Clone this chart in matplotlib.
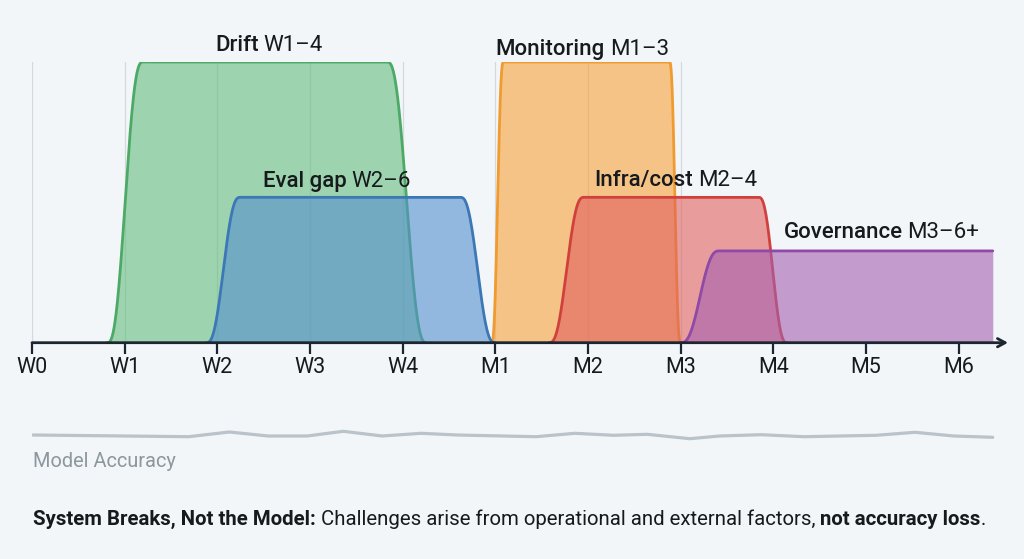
import numpy as np
import matplotlib
matplotlib.use("Agg")
import matplotlib.pyplot as plt
from matplotlib.transforms import IdentityTransform

plt.rcParams['font.family'] = ['Roboto', 'DejaVu Sans']

# ---------------- data ----------------
tick_labels = ["W0", "W1", "W2", "W3", "W4", "M1", "M2", "M3", "M4", "M5", "M6"]
phase_names = ["Drift", "Eval gap", "Monitoring", "Infra/cost", "Governance"]
phase_ranges = ["W1\u20134", "W2\u20136", "M1\u20133", "M2\u20134", "M3\u20136+"]
phase_start = [0.81, 1.88, 4.96, 5.58, 7.00]
phase_top_start = [1.20, 2.25, 5.09, 5.96, 7.42]
phase_top_end = [3.83, 4.62, 6.88, 7.84, 10.37]
phase_end = [4.26, 5.00, 7.00, 8.15, 10.37]
phase_level = [1.0, 0.518, 1.0, 0.518, 0.327]

acc_x = [0.01, 1.69, 2.13, 2.55, 2.97, 3.36, 3.78, 4.20, 4.59, 5.44, 5.86,
         6.28, 6.64, 7.10, 7.42, 7.87, 8.33, 9.11, 9.53, 9.95, 10.37]
acc_values = [92.10, 91.93, 92.40, 92.00, 92.00, 92.47, 92.00, 92.27, 92.10, 91.93, 92.27,
              92.07, 92.17, 91.73, 92.00, 92.13, 91.93, 92.07, 92.37, 92.00, 91.87]

# ---------------- style ----------------
fill_colors = ["#64bd7c", "#5490ce", "#f9a139", "#e1605e", "#a460b0"]
edge_colors = ["#4caa66", "#3b78b5", "#ef9b30", "#d0413d", "#8e4aa6"]
draw_order = [0, 2, 1, 3, 4]
label_x = [2.56, 3.29, 5.94, 6.95, 9.17]
label_y = [1.039, 0.555, 1.025, 0.558, 0.373]
dark = "#1b2631"
text_dark = "#161a1d"
bg = "#f3f6f9"

W, H = 1024, 559
fig = plt.figure(figsize=(W / 100, H / 100), dpi=100, facecolor=bg)
x0_px, unit_px, axis_px, top_px, right_px = 32.0, 92.65, 342.7, 62.0, 1008.0
xmax = (right_px - x0_px) / unit_px

ax = fig.add_axes([x0_px / W, 1 - axis_px / H, (right_px - x0_px) / W, (axis_px - top_px) / H])
ax.set_xlim(0, xmax)
ax.set_ylim(0, 1)
ax.patch.set_alpha(0)
for s in ax.spines.values():
    s.set_visible(False)
ax.set_yticks([])
ax.set_xticks(range(len(tick_labels)))
ax.set_xticklabels(tick_labels, fontsize=15.5, color=text_dark)
ax.tick_params(axis='x', length=8, width=1.6, color=dark, pad=2)

for i in range(8):
    ax.axvline(i, color="#d3dadf", lw=0.9, zorder=0)


def smooth(t):
    t = np.clip(t, 0, 1)
    return t ** 3 * (t * (6 * t - 15) + 10)


for k, i in enumerate(draw_order):
    s, a, b, e, h = phase_start[i], phase_top_start[i], phase_top_end[i], phase_end[i], phase_level[i]
    rise = np.linspace(s, a, 120)
    xs = [rise, np.array([a, b])]
    ys = [h * smooth((rise - s) / (a - s)), np.array([h, h])]
    if e > b:
        fall = np.linspace(b, e, 120)
        xs.append(fall)
        ys.append(h * smooth((e - fall) / (e - b)))
    x = np.concatenate(xs)
    y = np.concatenate(ys)
    ax.fill_between(x, 0, y, color=fill_colors[i], alpha=0.6, lw=0, zorder=2 + k)
    ax.plot(x, y, color=edge_colors[i], lw=2.0, zorder=2 + k, solid_capstyle='round')

ax.annotate("", xy=(xmax, 0), xytext=(0, 0),
            arrowprops=dict(arrowstyle="->,head_length=0.55,head_width=0.3", color=dark, lw=2,
                            shrinkA=0, shrinkB=0),
            annotation_clip=False, zorder=20)

# accuracy line
ax2 = fig.add_axes([x0_px / W, 1 - 450 / H, (right_px - x0_px) / W, 30 / H])
ax2.set_xlim(0, xmax)
ax2.set_ylim(90.6, 93.6)
ax2.axis('off')
ax2.plot(acc_x, acc_values, color="#b9c3c9", lw=2.3, solid_capstyle='round')

renderer = fig.canvas.get_renderer()


def rich(pieces, x, y, size, ha='left', color=text_dark, gap_frac=0.25):
    texts, widths = [], []
    for txt, wt, gap in pieces:
        t = fig.text(0, 0, txt, fontsize=size, fontweight=wt, transform=IdentityTransform(),
                     va='baseline', ha='left', color=color)
        texts.append(t)
        widths.append(t.get_window_extent(renderer).width)
    gap_px = size * 100 / 72 * gap_frac
    total = sum(widths) + sum(gap_px for _, _, g in pieces if g)
    cx = x - total / 2 if ha == 'center' else x
    for t, w, (_, _, g) in zip(texts, widths, pieces):
        if g:
            cx += gap_px
        t.set_position((cx, y))
        cx += w


for i in range(len(phase_names)):
    px, py = ax.transData.transform((label_x[i], label_y[i]))
    rich([(phase_names[i], 'medium', False), (phase_ranges[i], 'normal', True)], px, py, 16,
         ha='center', gap_frac=0.22)

fig.text(33 / W, 1 - 467 / H, "Model Accuracy", fontsize=14.4, color="#8c979e", va='baseline', ha='left')

rich([("System Breaks, Not the Model:", 'bold', False),
      ("Challenges arise from operational and external factors,", 'normal', True),
      ("not accuracy loss", 'bold', True),
      (".", 'normal', False)], 33, H - 525, 14.7)

fig.savefig("out.png", dpi=100, facecolor=bg)
